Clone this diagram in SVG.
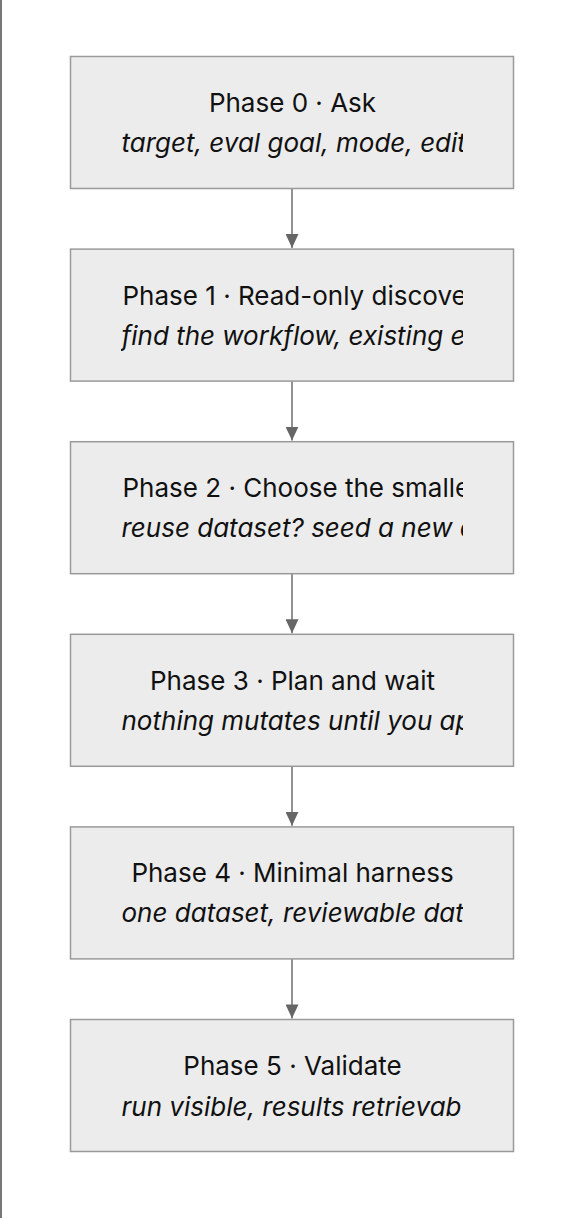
<svg xmlns="http://www.w3.org/2000/svg" width="578" height="1218" viewBox="0 0 578 1218">
<style>
.box{fill:#ececec;stroke:#9a9a9a;stroke-width:1.5}
.t{font-family:Inter,"Noto Sans","Liberation Sans",sans-serif;font-size:26px;fill:#111}
.s{font-style:italic}
.c{text-anchor:middle}
.edge{stroke:#6e6e6e;stroke-width:1.5;fill:none}
</style>
<defs>
<marker id="ah" markerWidth="14" markerHeight="13" refX="14" refY="6.5" orient="auto" markerUnits="userSpaceOnUse">
<path d="M0,0 L14,6.5 L0,13 Z" fill="#666"/>
</marker>
<clipPath id="cp"><rect x="121" y="0" width="342" height="1218"/></clipPath>
</defs>
<rect x="0" y="0" width="578" height="1218" fill="#fff"/>
<rect x="0" y="0" width="2" height="1218" fill="#777"/>
<g id="connectors">
<path class="edge" d="M292,188.5 V248" marker-end="url(#ah)"/>
<path class="edge" d="M292,381 V440.6" marker-end="url(#ah)"/>
<path class="edge" d="M292,573.6 V633.2" marker-end="url(#ah)"/>
<path class="edge" d="M292,766.2 V825.8" marker-end="url(#ah)"/>
<path class="edge" d="M292,958.8 V1018.4" marker-end="url(#ah)"/>
</g>
<g id="phase0">
<rect class="box" x="70.5" y="56.5" width="443" height="132"/>
<text class="t c" x="292.5" y="112">Phase 0 · Ask</text>
<text class="t s" x="121.5" y="152" clip-path="url(#cp)">target, eval goal, mode, edit</text>
</g>
<g id="phase1">
<rect class="box" x="70.5" y="249.1" width="443" height="132"/>
<text class="t" x="122.5" y="304.6" clip-path="url(#cp)">Phase 1 · Read-only discove</text>
<text class="t s" x="121.5" y="344.6" clip-path="url(#cp)">find the workflow, existing e</text>
</g>
<g id="phase2">
<rect class="box" x="70.5" y="441.7" width="443" height="132"/>
<text class="t" x="122.5" y="497.2" clip-path="url(#cp)">Phase 2 · Choose the smalle</text>
<text class="t s" x="121.5" y="537.2" clip-path="url(#cp)">reuse dataset? seed a new d</text>
</g>
<g id="phase3">
<rect class="box" x="70.5" y="634.3" width="443" height="132"/>
<text class="t c" x="292.5" y="689.8">Phase 3 · Plan and wait</text>
<text class="t s" x="121.5" y="729.8" clip-path="url(#cp)">nothing mutates until you ap</text>
</g>
<g id="phase4">
<rect class="box" x="70.5" y="826.9" width="443" height="132"/>
<text class="t c" x="292.5" y="882.4">Phase 4 · Minimal harness</text>
<text class="t s" x="121.5" y="922.4" clip-path="url(#cp)">one dataset, reviewable dat</text>
</g>
<g id="phase5">
<rect class="box" x="70.5" y="1019.5" width="443" height="132"/>
<text class="t c" x="292.5" y="1075">Phase 5 · Validate</text>
<text class="t s" x="121.5" y="1115.5" clip-path="url(#cp)">run visible, results retrievab</text>
</g>
</svg>
